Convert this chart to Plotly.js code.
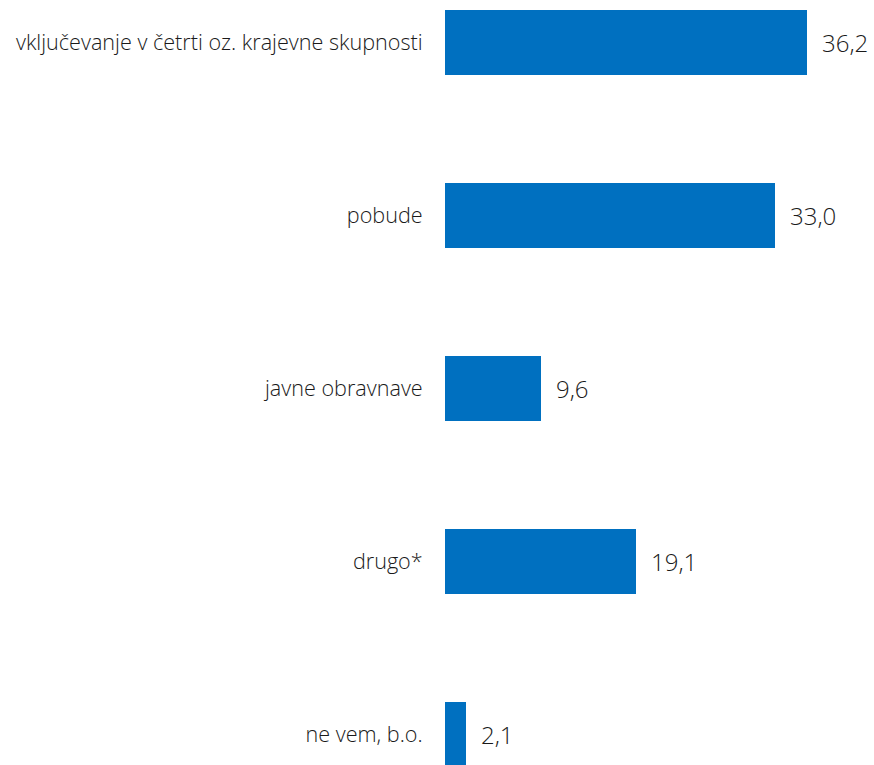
<!DOCTYPE html>
<html>
<head>
<meta charset="utf-8">
<script src="https://cdn.plot.ly/plotly-3.0.1.min.js"></script>
<style>html,body{margin:0;padding:0;background:#fff;}#chart{width:874px;height:765px;}</style>
</head>
<body>
<div id="chart"></div>
<script>
const categories = ["vključevanje v četrti oz. krajevne skupnosti", "pobude", "javne obravnave", "drugo*", "ne vem, b.o."];
const values = [36.2, 33.0, 9.6, 19.1, 2.1];
const valueLabels = values.map(v => v.toFixed(1).replace('.', ','));

const fontFamily = '"Open Sans", "Segoe UI", sans-serif';

const trace = {
  type: 'bar',
  orientation: 'h',
  y: categories,
  x: values,
  marker: {color: '#0070C0'},
  hoverinfo: 'none',
  width: 0.375
};

const annotations = values.map((v, i) => ({
  x: v, y: categories[i], xref: 'x', yref: 'y',
  text: valueLabels[i], showarrow: false,
  xanchor: 'left', yanchor: 'middle', xshift: 13,
  font: {family: fontFamily, size: 24, color: '#1a1a1a', weight: 300}
}));

const layout = {
  width: 874, height: 765,
  margin: {l: 445, r: 0, t: 0, b: 0},
  paper_bgcolor: '#fff', plot_bgcolor: '#fff',
  showlegend: false,
  xaxis: {range: [0, 42.9], visible: false, fixedrange: true},
  yaxis: {
    type: 'category',
    range: [4.176, -0.246],
    showgrid: false, zeroline: false, showline: false,
    ticks: 'outside', ticklen: 17, tickcolor: 'rgba(0,0,0,0)',
    tickfont: {family: fontFamily, size: 21.6, color: '#1a1a1a', weight: 300}
  },
  annotations: annotations
};

Plotly.newPlot('chart', [trace], layout, {displayModeBar: false, staticPlot: true});
</script>
</body>
</html>
